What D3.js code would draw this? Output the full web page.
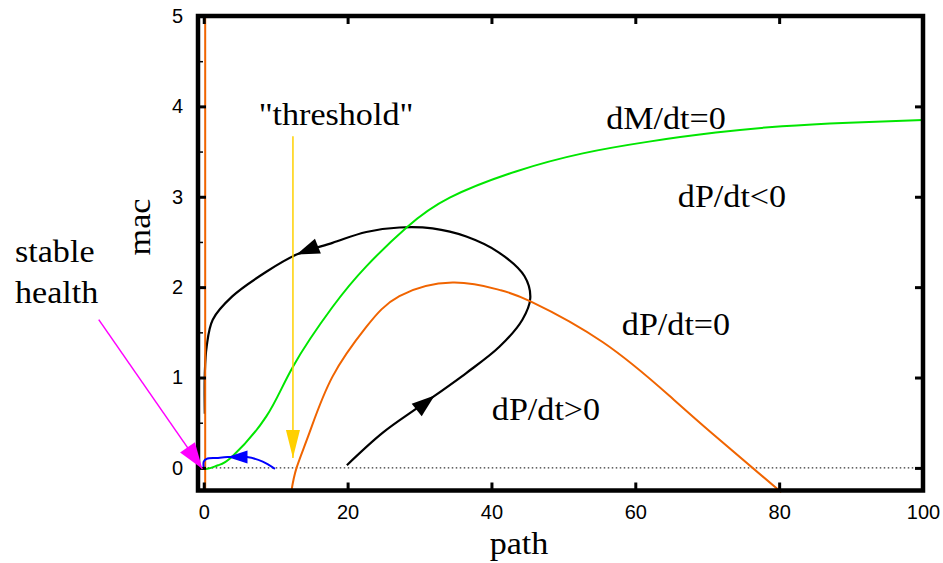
<!DOCTYPE html>
<html>
<head>
<meta charset="utf-8">
<script src="https://cdn.jsdelivr.net/npm/d3@7"></script>
<style>
  body { margin: 0; background: #fff; }
  .tick text { font-family: "Liberation Sans", Arial, sans-serif; font-size: 20px; fill: #000; }
  .lbl { font-family: "Liberation Serif", "Times New Roman", serif; font-size: 31px; fill: #000; }
</style>
</head>
<body>
<svg></svg>
<script>
const width = 943;
const height = 563;

// data (path, mac)
const xTicks = [0, 20, 40, 60, 80, 100];
const yTicks = [0, 1, 2, 3, 4, 5];
const yMinorTicks = [0.5, 1.5, 2.5, 3.5, 4.5];

const dMdtZero = [
  [-0.8, 0.01], [0.5, -0.01], [2, 0.03], [4, 0.13], [8.7, 0.57], [12.4, 1.12],
  [17.9, 1.78], [22.6, 2.23], [28.2, 2.66], [34.2, 2.99], [43.4, 3.28], [52.7, 3.48],
  [61.9, 3.61], [71.2, 3.71], [80.4, 3.78], [89.7, 3.82], [100, 3.85]
];

const dPdtZeroAxis = [[0.2, -0.25], [0.2, 5]];

const dPdtZero = [
  [12.2, -0.25], [12.9, 0.0], [14.7, 0.39], [17.9, 1.01], [22.6, 1.56], [27.2, 1.9],
  [34.6, 2.05], [41.1, 1.97], [45.5, 1.84], [55.5, 1.39], [64.7, 0.8], [70.7, 0.38],
  [80.3, -0.27]
];

const orbit = [
  [19.9, 0.03], [24.9, 0.39], [30, 0.68], [36.5, 1.05], [41.1, 1.34],
  [44.3, 1.64], [45.4, 1.88], [44.6, 2.12], [41.1, 2.38], [36.5, 2.56], [31.8, 2.65],
  [27.2, 2.66], [22.6, 2.61], [17.9, 2.49], [12.9, 2.36], [8.7, 2.17], [4.0, 1.9],
  [1.25, 1.64], [0.4, 1.34], [0.15, 1.05], [0.15, 0.6]
];

const recovery = [
  [9.9, -0.01], [8.2, 0.07], [6, 0.12], [3.3, 0.12], [1.8, 0.11], [0.4, 0.1],
  [0, 0.07], [0, 0]
];

const thresholdArrow = [[12.4, 3.67], [12.4, 0.11]];
const healthArrow = [[-14.6, 1.64], [-0.2, -0.01]];

// arrow heads: tip, a point behind it along the curve
const heads = [
  { tip: [32.1, 0.8], from: [28.5, 0.57], color: "#000", len: 23, half: 8 },
  { tip: [12.9, 2.36], from: [17, 2.49], color: "#000", len: 23, half: 8 },
  { tip: [3.3, 0.12], from: [6.5, 0.12], color: "#0000ff", len: 20, half: 6.5 },
  { tip: [12.4, 0.11], from: [12.4, 1], color: "#ffd000", len: 28, half: 7 },
  { tip: [-0.2, -0.01], from: [-14.6, 1.64], color: "#ff00ff", len: 26, half: 9 }
];

const labels = [
  { text: "\"threshold\"", at: [336, 125] },
  { text: "dM/dt=0", at: [666, 129] },
  { text: "dP/dt<0", at: [732, 207] },
  { text: "dP/dt=0", at: [676, 335] },
  { text: "dP/dt>0", at: [546, 420] }
];

const svg = d3.select("svg").attr("width", width).attr("height", height);

const x = d3.scaleLinear().domain([-0.8, 100]).range([198, 923]);
const y = d3.scaleLinear().domain([-0.25, 5]).range([490.5, 16]);

const line = d3.line().x((d) => x(d[0])).y((d) => y(d[1]));
const smooth = d3.line().x((d) => x(d[0])).y((d) => y(d[1])).curve(d3.curveNatural);
const loop = d3.line().x((d) => x(d[0])).y((d) => y(d[1])).curve(d3.curveCatmullRom.alpha(0.5));

// dotted zero line
svg.append("line")
  .attr("x1", x(0)).attr("x2", x(100))
  .attr("y1", y(0)).attr("y2", y(0))
  .attr("stroke", "#000").attr("stroke-width", 1)
  .attr("stroke-dasharray", "1.5,2.5");

// curves
svg.append("path").datum(orbit).attr("d", loop)
  .attr("fill", "none").attr("stroke", "#000").attr("stroke-width", 2.2);
svg.append("path").datum(dMdtZero).attr("d", smooth)
  .attr("fill", "none").attr("stroke", "#00e600").attr("stroke-width", 2);
svg.append("path").datum(dPdtZero).attr("d", smooth)
  .attr("fill", "none").attr("stroke", "#f06400").attr("stroke-width", 2);
svg.append("path").datum(dPdtZeroAxis).attr("d", line)
  .attr("fill", "none").attr("stroke", "#f06400").attr("stroke-width", 2);
svg.append("path").datum(recovery).attr("d", loop)
  .attr("fill", "none").attr("stroke", "#0000ff").attr("stroke-width", 2);
svg.append("path").datum(thresholdArrow).attr("d", line)
  .attr("fill", "none").attr("stroke", "#ffd000").attr("stroke-width", 1.5);

// axes, ticks pointing inward
const axisB = svg.append("g").attr("transform", `translate(0,${y.range()[0]})`)
  .call(d3.axisBottom(x).tickValues(xTicks).tickSize(-8).tickPadding(14));
const axisL = svg.append("g").attr("transform", `translate(${x.range()[0]},0)`)
  .call(d3.axisLeft(y).tickValues(yTicks).tickSize(-8).tickPadding(15).tickFormat(d3.format("d")));
const axisT = svg.append("g").attr("transform", `translate(0,${y.range()[1]})`)
  .call(d3.axisTop(x).tickValues(xTicks).tickSize(-8).tickFormat(""));
const axisR = svg.append("g").attr("transform", `translate(${x.range()[1]},0)`)
  .call(d3.axisRight(y).tickValues(yTicks).tickSize(-8).tickFormat(""));
svg.append("g").attr("transform", `translate(${x.range()[0]},0)`)
  .call(d3.axisLeft(y).tickValues(yMinorTicks).tickSize(-5).tickFormat(""))
  .selectAll(".tick line").attr("stroke-width", 1.5);

[axisB, axisL, axisT, axisR].forEach((g) => {
  g.selectAll(".tick line").attr("stroke", "#000").attr("stroke-width", 3);
});
svg.selectAll(".domain").remove();

// frame
svg.append("rect")
  .attr("x", x.range()[0]).attr("y", y.range()[1])
  .attr("width", x.range()[1] - x.range()[0])
  .attr("height", y.range()[0] - y.range()[1])
  .attr("fill", "none").attr("stroke", "#000").attr("stroke-width", 4.5);

// pointer to the stable state, drawn over the frame
svg.append("path").datum(healthArrow).attr("d", line)
  .attr("fill", "none").attr("stroke", "#ff00ff").attr("stroke-width", 1.5);

// arrow heads
svg.append("g").selectAll("path")
  .data(heads)
  .enter()
  .append("path")
  .attr("fill", (d) => d.color)
  .attr("d", (d) => {
    const tx = x(d.tip[0]), ty = y(d.tip[1]);
    const fx = x(d.from[0]), fy = y(d.from[1]);
    const a = Math.atan2(ty - fy, tx - fx);
    const bx = tx - d.len * Math.cos(a), by = ty - d.len * Math.sin(a);
    const nx = -Math.sin(a) * d.half, ny = Math.cos(a) * d.half;
    return `M${tx},${ty}L${bx + nx},${by + ny}L${bx - nx},${by - ny}Z`;
  });

// labels
svg.append("g").selectAll("text")
  .data(labels)
  .enter()
  .append("text")
  .attr("class", "lbl")
  .attr("text-anchor", "middle")
  .attr("transform", (d) => `translate(${d.at[0]},${d.at[1]}) scale(1.1,1)`)
  .text((d) => d.text);

svg.append("text").attr("class", "lbl")
  .attr("transform", "translate(15,262) scale(1.1,1)").text("stable");
svg.append("text").attr("class", "lbl")
  .attr("transform", "translate(15,303) scale(1.1,1)").text("health");

svg.append("text").attr("class", "lbl").attr("text-anchor", "middle")
  .attr("transform", "translate(150,227) rotate(-90) scale(1.1,1)").text("mac");
svg.append("text").attr("class", "lbl").attr("text-anchor", "middle")
  .attr("transform", "translate(519,554) scale(1.1,1)").text("path");
</script>
</body>
</html>
